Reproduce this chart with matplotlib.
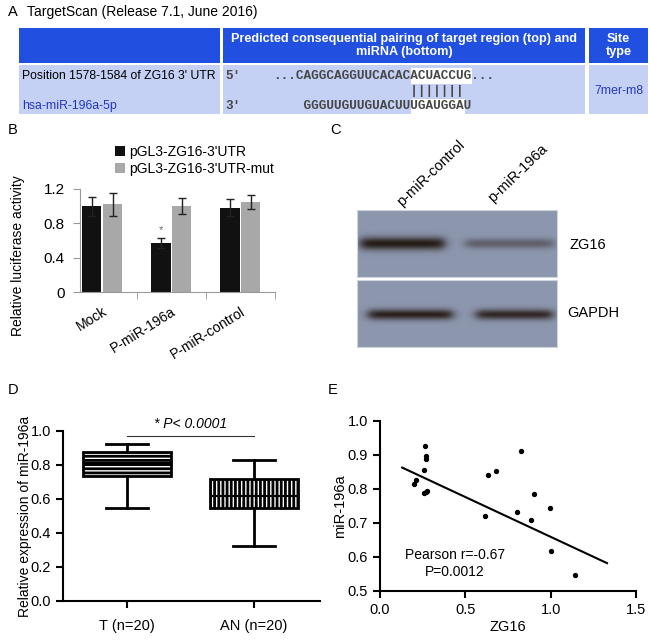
import numpy as np
import matplotlib
matplotlib.use("Agg")
import matplotlib.pyplot as plt
import matplotlib.font_manager as fm
from matplotlib.patches import Rectangle

plt.rcParams['font.family'] = ['Liberation Sans', 'DejaVu Sans']
plt.rcParams['hatch.linewidth'] = 2.0

# ---- data -------------------------------------------------------------
# A: TargetScan pairing
site_pos = "Position 1578-1584 of ZG16 3' UTR"
mirna_name = "hsa-miR-196a-5p"
target_seq = "...CAGGCAGGUUCACACACUACCUG..."
mirna_seq = "    GGGUUGUUGUACUUUGAUGGAU"
seed_start = 18          # character index of the seed pairing
seed_len_top = 8
seed_len_bottom = 7
site_type = "7mer-m8"

# B: luciferase assay
groups = ['Mock', 'P-miR-196a', 'P-miR-control']
wt_vals = [1.00, 0.57, 0.98]
wt_err = [0.11, 0.06, 0.10]
mut_vals = [1.02, 1.00, 1.05]
mut_err = [0.13, 0.09, 0.08]
series_names = ["pGL3-ZG16-3'UTR", "pGL3-ZG16-3'UTR-mut"]

# C: western blot
lanes = ['p-miR-control', 'p-miR-196a']
zg16_level = [1.0, 0.45]
gapdh_level = [0.95, 0.9]

# D: box plot
box_labels = ['T (n=20)', 'AN (n=20)']
box_whislo = [0.55, 0.325]
box_q1 = [0.735, 0.548]
box_med = [0.81, 0.62]
box_q3 = [0.878, 0.715]
box_whishi = [0.925, 0.83]

# E: correlation
zg16 = [0.202, 0.212, 0.261, 0.269, 0.271, 0.257, 0.257, 0.269, 0.278,
        0.618, 0.635, 0.682, 0.800, 0.825, 0.882, 0.902, 0.994, 1.004, 1.143]
mir196a = [0.816, 0.826, 0.926, 0.896, 0.887, 0.855, 0.787, 0.791, 0.794,
           0.721, 0.840, 0.854, 0.732, 0.912, 0.710, 0.784, 0.745, 0.619, 0.547]
fit_x = [0.13, 1.33]
fit_y = [0.863, 0.582]

W, H = 650, 641
fig = plt.figure(figsize=(W / 100, H / 100), dpi=100)


def px_axes(x0, y0, x1, y1):
    return fig.add_axes([x0 / W, 1 - y1 / H, (x1 - x0) / W, (y1 - y0) / H])


# overlay in pixel coordinates for table, labels and blot annotations
ax0 = fig.add_axes([0, 0, 1, 1], zorder=0)
ax0.set_xlim(0, W)
ax0.set_ylim(H, 0)
ax0.axis('off')

for lab, x, y in [('A', 8, 12), ('B', 8, 130), ('C', 330, 130), ('D', 8, 390), ('E', 328, 390)]:
    ax0.text(x, y, lab, fontsize=10.5, va='center', ha='left')

# ---- A: table ---------------------------------------------------------
ax0.text(27, 12, "TargetScan (Release 7.1, June 2016)", fontsize=10, va='center')
hdr_blue = '#2150e0'
body_blue = '#c4d1f5'
cols = [(19, 220), (223, 585), (589, 648)]
for (x0, x1) in cols:
    ax0.add_patch(Rectangle((x0, 28), x1 - x0, 35, color=hdr_blue, lw=0))
    ax0.add_patch(Rectangle((x0, 65), x1 - x0, 49, color=body_blue, lw=0))

names = {f.name for f in fm.fontManager.ttflist}
if 'Liberation Sans Narrow' in names:
    hdr_font, hdr_size = ['Liberation Sans Narrow', 'Liberation Sans'], 10
else:
    hdr_font, hdr_size = ['Liberation Sans', 'DejaVu Sans'], 9.1
ax0.text(404, 45.5, "Predicted consequential pairing of target region (top) and\nmiRNA (bottom)",
         family=hdr_font, fontsize=hdr_size, fontweight='bold', color='white',
         ha='center', va='center', linespacing=1.1)
ax0.text(618.5, 45.5, "Site\ntype", family=hdr_font, fontsize=hdr_size, fontweight='bold',
         color='white', ha='center', va='center', linespacing=1.1)

ax0.text(22, 76, site_pos, fontsize=8.8, va='center')
ax0.text(22, 106, mirna_name, fontsize=8.8, va='center', color='#2436c0')
ax0.text(618.5, 91, site_type, fontsize=8.8, va='center', ha='center', color='#2436c0')

mono_size = 9.2
cw = 0.6 * mono_size * 100 / 72
seq_x = 273
ax0.add_patch(Rectangle((seq_x + seed_start * cw, 68), seed_len_top * cw, 16, color='white', lw=0))
ax0.add_patch(Rectangle((seq_x + seed_start * cw, 99), seed_len_bottom * cw, 15, color='white', lw=0))
mono = dict(family='Liberation Mono', fontsize=mono_size, fontweight='bold', color='#474747', va='center')
ax0.text(225, 76, "5'", **mono)
ax0.text(225, 106, "3'", **mono)
ax0.text(seq_x, 76, target_seq, **mono)
ax0.text(seq_x, 91, " " * seed_start + "|" * seed_len_bottom, **mono)
ax0.text(seq_x, 106, mirna_seq, **mono)

# ---- B: luciferase bars ----------------------------------------------
ax_b = px_axes(80, 189, 275, 292)
xg = np.arange(len(groups))
bw = 0.28
gray = '#9a9a9a'
b1 = ax_b.bar(xg - 0.15, wt_vals, bw, color='#111111', yerr=wt_err,
              error_kw=dict(ecolor='#222222', elinewidth=1, capsize=3, capthick=1))
b2 = ax_b.bar(xg + 0.15, mut_vals, bw, color='#a8a8a8', yerr=mut_err,
              error_kw=dict(ecolor='#222222', elinewidth=1, capsize=3, capthick=1))
ax_b.text(1 - 0.15, 0.72, '*', ha='center', va='center', fontsize=8, color='#666666')
ax_b.set_xlim(-0.32, 2.5)
ax_b.set_ylim(0, 1.2)
ax_b.set_yticks([0, 0.4, 0.8, 1.2])
ax_b.set_yticklabels(['0', '0.4', '0.8', '1.2'])
ax_b.set_xticks(xg)
ax_b.set_xticklabels(groups, rotation=32, ha='right', rotation_mode='anchor')
ax_b.set_xticks([0.5, 1.5, 2.5], minor=True)
ax_b.tick_params(axis='x', which='major', length=0, pad=9, labelsize=10)
ax_b.tick_params(axis='x', which='minor', length=5, color=gray, direction='out')
ax_b.tick_params(axis='y', length=5, color=gray, labelsize=11, pad=6)
for s in ['top', 'right']:
    ax_b.spines[s].set_visible(False)
for s in ['left', 'bottom']:
    ax_b.spines[s].set_color(gray)
ax_b.set_ylabel('Relative luciferase activity', fontsize=10)
ax_b.yaxis.set_label_coords(-0.28, 0.35)
fig.legend([b1, b2], series_names, loc='upper left', bbox_to_anchor=(115 / W, 1 - 145 / H),
           frameon=False, fontsize=10, handlelength=0.7, handleheight=0.7,
           handletextpad=0.35, labelspacing=0.2, borderpad=0, borderaxespad=0)

# ---- C: western blot --------------------------------------------------
bg = np.array([0.55, 0.59, 0.68])
dark = np.array([0.15, 0.11, 0.09])


def draw_blot(ax, levels, centers, half_w, yc, sig):
    hh, ww = 67, 200
    yy, xx = np.mgrid[0:hh, 0:ww]
    img = np.ones((hh, ww, 3)) * bg
    alpha = np.zeros((hh, ww))
    for lev, c, hw in zip(levels, centers, half_w):
        px = 1 / (1 + np.exp((np.abs(xx - c) - hw) / 3.0))
        py = np.exp(-0.5 * ((yy - yc) / (sig * (0.6 + 0.4 * lev))) ** 2)
        alpha = np.maximum(alpha, lev * px * py)
    img = img * (1 - alpha[..., None]) + dark * alpha[..., None]
    ax.imshow(img, aspect='auto', interpolation='bilinear')
    ax.set_xticks([])
    ax.set_yticks([])
    for s in ax.spines.values():
        s.set_color('#d0d4dc')


ax_c1 = px_axes(357, 210, 557, 277)
draw_blot(ax_c1, zg16_level, [45, 152], [42, 44], 33, 4.5)
ax_c2 = px_axes(357, 280, 557, 347)
draw_blot(ax_c2, gapdh_level, [53, 157], [42, 38], 34, 3.8)

for lab, x, y in zip(lanes, [402, 493], [207, 203]):
    ax0.text(x, y, lab, rotation=44, rotation_mode='anchor', ha='left', va='baseline', fontsize=10.5)
ax0.text(570, 245, 'ZG16', fontsize=10.5, va='center')
ax0.text(567, 313, 'GAPDH', fontsize=10.5, va='center')

# ---- D: box plot ------------------------------------------------------
ax_d = px_axes(63, 431, 320, 601)
stats = []
for i in range(len(box_labels)):
    stats.append(dict(whislo=box_whislo[i], q1=box_q1[i], med=box_med[i],
                      q3=box_q3[i], whishi=box_whishi[i], fliers=[]))
bp = ax_d.bxp(stats, positions=[1, 2], widths=0.69, patch_artist=True, showfliers=False,
              capwidths=0.33,
              boxprops=dict(facecolor='white', edgecolor='black', linewidth=2),
              medianprops=dict(color='black', linewidth=1.5),
              whiskerprops=dict(color='black', linewidth=2),
              capprops=dict(color='black', linewidth=2))
bp['boxes'][0].set_hatch('----')
bp['boxes'][1].set_hatch('||||')
ax_d.plot([1, 2], [0.97, 0.97], color='#333333', lw=0.8)
ax_d.text(1.5, 1.0, '* P< 0.0001', style='italic', ha='center', va='bottom', fontsize=10)
ax_d.set_xlim(0.496, 2.52)
ax_d.set_ylim(0, 1.0)
ax_d.set_yticks(np.arange(0, 1.01, 0.2))
ax_d.set_yticklabels(['0.0', '0.2', '0.4', '0.6', '0.8', '1.0'])
ax_d.set_xticks([1, 2])
ax_d.set_xticklabels(box_labels)
ax_d.tick_params(width=1.5, length=5, labelsize=10.5)
ax_d.tick_params(axis='x', pad=8)
for s in ['top', 'right']:
    ax_d.spines[s].set_visible(False)
for s in ['left', 'bottom']:
    ax_d.spines[s].set_linewidth(1.5)
ax_d.set_ylabel('Relative expression of miR-196a', fontsize=10)
ax_d.yaxis.set_label_coords(-0.12, 0.5)

# ---- E: correlation ---------------------------------------------------
ax_e = px_axes(380, 421, 636, 591)
ax_e.scatter(zg16, mir196a, s=8, color='black', zorder=3)
ax_e.plot(fit_x, fit_y, color='black', lw=1.5)
ax_e.text(0.44, 0.606, 'Pearson r=-0.67', ha='center', va='center', fontsize=10)
ax_e.text(0.44, 0.556, 'P=0.0012', ha='center', va='center', fontsize=10)
ax_e.set_xlim(0, 1.5)
ax_e.set_ylim(0.5, 1.0)
ax_e.set_xticks([0, 0.5, 1.0, 1.5])
ax_e.set_xticklabels(['0.0', '0.5', '1.0', '1.5'])
ax_e.set_yticks(np.arange(0.5, 1.01, 0.1))
ax_e.set_yticklabels(['0.5', '0.6', '0.7', '0.8', '0.9', '1.0'])
ax_e.tick_params(width=1.5, length=5, labelsize=10.5)
for s in ['top', 'right']:
    ax_e.spines[s].set_visible(False)
for s in ['left', 'bottom']:
    ax_e.spines[s].set_linewidth(1.5)
ax_e.set_xlabel('ZG16', fontsize=10.5, labelpad=2)
ax_e.set_ylabel('miR-196a', fontsize=10.5)
ax_e.yaxis.set_label_coords(-0.13, 0.5)

fig.savefig('out.png', dpi=100)
